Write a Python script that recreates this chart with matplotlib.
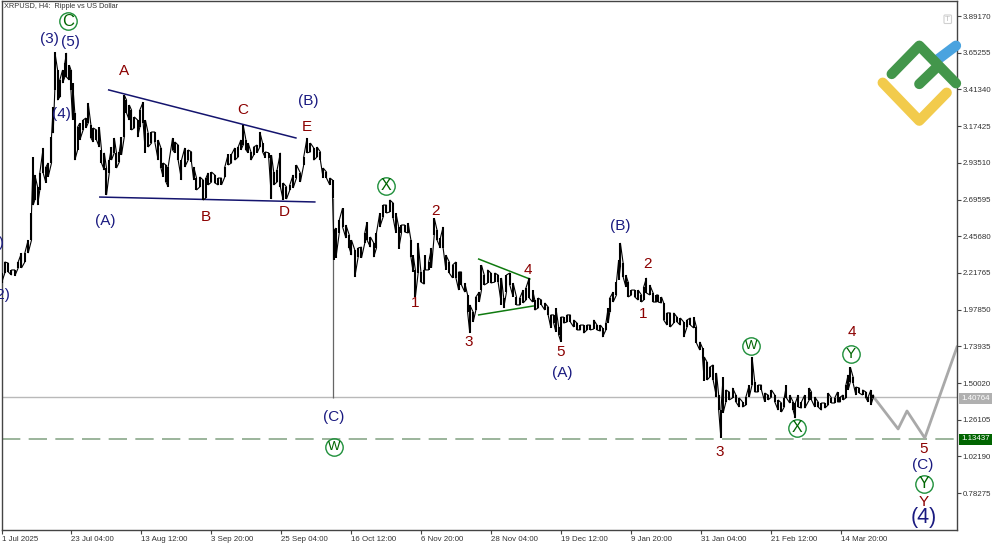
import numpy as np
import matplotlib
matplotlib.use('Agg')
import matplotlib.pyplot as plt
from matplotlib.lines import Line2D
from matplotlib.patches import FancyBboxPatch
from matplotlib.transforms import Affine2D

plt.rcParams['font.family'] = ['Liberation Sans', 'DejaVu Sans']

bars_jul = [0,6,12,18,24,30,36,42,48,54,57,60,65,69,75,80,84,90,93,96,101,105,110,114,117,122,125]
high_jul = [2.217,2.289,2.282,2.237,2.237,2.289,2.347,2.347,2.432,2.608,2.973,2.856,2.778,2.869,3.032,2.908,2.934,3.103,3.299,3.657,3.540,3.475,3.540,3.585,3.651,3.572,3.540]
low_jul = [2.152,2.217,2.224,2.204,2.198,2.250,2.250,2.289,2.347,2.432,2.660,2.693,2.660,2.758,2.869,2.804,2.843,2.934,3.129,3.410,3.344,3.364,3.455,3.494,3.494,3.475,3.410]

bars_aug = [128,132,137,141,147,152,156,161,165,171,176,180,185,189,194,198,203,207,212,216,221,225,230,234,239,245,249,255,259,264,270,276,282,287,291,296,300]
high_aug = [3.455,3.260,3.168,3.194,3.214,3.227,3.325,3.181,3.162,3.149,3.168,3.019,3.000,2.901,2.953,3.038,3.097,3.000,3.006,3.103,3.377,3.344,3.312,3.279,3.234,3.214,3.279,3.331,3.214,3.129,3.136,3.136,3.084,3.032,2.934,2.921,2.908]
low_aug = [3.214,2.953,3.019,3.084,3.149,3.162,3.194,3.097,3.071,3.084,3.038,2.934,2.888,2.725,2.869,2.953,3.000,2.901,2.940,2.986,3.103,3.260,3.214,3.149,3.162,3.103,3.168,3.194,3.000,3.038,3.064,3.071,2.953,2.901,2.843,2.810,2.778]

bars_sep = [308,312,318,324,330,336,342,346,351,357,363,368,372,378,384,390,396,402,408,414,420,426,431,435,440,444,449,454,460,465,470,475,481,486,490,496,502,507,513,519,525,531,538,544,550,556,562,568,574,579,585,591,596,597]
high_sep = [3.097,3.071,3.051,2.953,3.032,3.019,3.006,2.908,2.836,2.843,2.823,2.836,2.869,2.875,2.856,2.836,2.836,2.908,2.990,2.990,3.032,3.038,3.084,3.181,3.084,3.064,3.006,3.038,3.051,3.136,3.064,3.006,3.000,2.986,2.875,2.888,3.000,2.804,2.778,2.791,2.856,2.921,2.869,2.973,3.097,3.064,3.032,3.038,3.006,2.901,2.875,2.836,2.823,2.706]
low_sep = [3.019,3.000,2.953,2.823,2.908,2.953,2.940,2.823,2.758,2.778,2.693,2.706,2.791,2.810,2.804,2.791,2.791,2.843,2.921,2.934,2.953,2.973,3.019,3.051,3.019,3.000,2.953,2.986,3.000,3.038,3.006,2.967,2.967,2.699,2.791,2.810,2.778,2.693,2.699,2.758,2.771,2.836,2.810,2.921,3.000,3.006,2.953,2.973,2.953,2.836,2.836,2.791,2.706,1.403]

bars_oct = [599,602,608,614,620,626,630,636,642,648,654,658,664,670,675,681,687,693,699,705,710,715,720,726,732,737,741,745,750,755,761,763,769,774,779,784,790,795,800,806,812,818,823,828,834,839,843,849,854,860,864,869,875,881]
high_oct = [2.497,2.510,2.562,2.640,2.530,2.465,2.432,2.367,2.380,2.386,2.478,2.549,2.452,2.413,2.478,2.608,2.660,2.660,2.693,2.673,2.608,2.517,2.530,2.530,2.543,2.432,2.334,2.237,2.413,2.224,2.237,2.334,2.289,2.380,2.575,2.497,2.445,2.517,2.334,2.289,2.269,2.289,2.224,2.224,2.152,2.074,2.009,1.963,2.061,2.093,2.269,2.204,2.237,2.217]
low_oct = [2.302,2.315,2.478,2.517,2.445,2.380,2.334,2.191,2.321,2.315,2.413,2.432,2.386,2.321,2.380,2.517,2.582,2.608,2.615,2.575,2.478,2.374,2.478,2.484,2.478,2.321,2.224,2.061,2.217,2.158,2.145,2.237,2.237,2.250,2.465,2.432,2.380,2.380,2.237,2.217,2.185,2.185,2.106,2.139,2.093,1.963,1.826,1.898,1.976,2.028,2.106,2.139,2.152,2.152]

bars_dec = [888,894,900,904,909,915,921,927,933,939,944,950,956,960,966,972,978,984,989,994,998,1003,1007,1012,1018,1024,1030,1036,1042,1048,1054,1060,1066,1072,1078,1082,1088,1092,1095,1101,1107,1111,1114,1119,1124,1128,1134,1140,1146,1152,1156,1161,1167,1173,1179]
high_dec = [2.217,2.204,2.185,2.054,2.204,2.217,2.152,2.061,2.054,2.106,2.119,2.185,2.106,2.041,2.054,2.041,2.022,1.996,1.944,1.944,1.989,1.865,1.930,1.930,1.944,1.944,1.911,1.891,1.878,1.878,1.878,1.878,1.911,1.878,1.878,1.859,1.891,1.989,2.054,2.093,2.158,2.302,2.413,2.282,2.204,2.158,2.106,2.106,2.106,2.074,2.126,2.185,2.139,2.087,2.074]
low_dec = [2.158,2.158,2.009,1.989,2.093,2.139,2.061,2.009,2.009,2.022,2.041,2.054,2.028,1.976,1.989,2.009,1.976,1.944,1.859,1.891,1.833,1.813,1.768,1.891,1.898,1.898,1.865,1.846,1.846,1.826,1.846,1.846,1.852,1.846,1.839,1.800,1.846,1.891,1.963,2.028,2.074,2.172,2.256,2.191,2.126,2.061,2.074,2.061,2.041,2.028,2.041,2.087,2.074,2.028,2.028]

bars_feb = [1182,1188,1192,1198,1204,1210,1216,1222,1228,1234,1240,1246,1251,1257,1262,1265,1270,1275,1281,1287,1291,1295,1299,1304,1310,1316,1322,1328,1334,1340,1346,1351,1356,1362,1368,1374,1380,1386,1392,1398,1404,1409,1413,1419,1425,1429,1434,1440,1446,1454]
high_feb = [2.074,2.061,2.022,1.957,1.957,1.957,1.930,1.924,1.898,1.911,1.924,1.930,1.865,1.768,1.728,1.670,1.637,1.604,1.618,1.566,1.422,1.324,1.539,1.455,1.442,1.468,1.422,1.403,1.377,1.409,1.487,1.670,1.507,1.487,1.487,1.435,1.422,1.455,1.422,1.390,1.370,1.403,1.487,1.422,1.377,1.370,1.422,1.377,1.422,1.468]
low_feb = [2.028,2.022,1.911,1.878,1.865,1.891,1.898,1.878,1.800,1.865,1.878,1.859,1.761,1.715,1.663,1.514,1.520,1.539,1.520,1.409,1.324,1.142,1.305,1.377,1.390,1.403,1.377,1.344,1.344,1.357,1.409,1.487,1.442,1.442,1.455,1.377,1.390,1.409,1.377,1.324,1.311,1.344,1.403,1.370,1.324,1.272,1.344,1.337,1.337,1.390]

bars_mar = [1458,1464,1470,1476,1482,1488,1494,1500,1505,1510,1515,1520,1524,1528,1533,1538,1544,1550,1556,1560,1565,1569]
high_mar = [1.442,1.409,1.377,1.370,1.370,1.435,1.403,1.403,1.442,1.409,1.422,1.487,1.553,1.604,1.539,1.474,1.468,1.455,1.442,1.409,1.455,1.422]
low_mar = [1.390,1.344,1.344,1.324,1.337,1.357,1.370,1.370,1.377,1.377,1.390,1.403,1.455,1.507,1.500,1.422,1.435,1.422,1.403,1.377,1.357,1.403]

# forecast path and the drawn trend lines
forecast_bars = [1570,1614,1630,1662,1720]
forecast_price = [1.409,1.201,1.318,1.142,1.735]
upper_bars = [193,530]
upper_price = [3.410,3.097]
lower_bars = [177,564]
lower_price = [2.712,2.680]
tri_top_bars = [859,951]
tri_top_price = [2.308,2.178]
tri_bot_bars = [859,957]
tri_bot_price = [1.944,2.002]
last_price = 1.40764
target_price = 1.13437

tick_bars = [0,126,252,378,504,630,756,882,1008,1134,1260,1386,1512]
tick_dates = ['1 Jul 2025','23 Jul 04:00','13 Aug 12:00','3 Sep 20:00','25 Sep 04:00','16 Oct 12:00',
              '6 Nov 20:00','28 Nov 04:00','19 Dec 12:00','9 Jan 20:00','31 Jan 04:00','21 Feb 12:00','14 Mar 20:00']
price_ticks = [3.89170,3.65255,3.41340,3.17425,2.93510,2.69595,2.45680,2.21765,1.97850,1.73935,1.50020,1.26105,1.02190,0.78275]

bars = np.concatenate([bars_jul,bars_aug,bars_sep,bars_oct,bars_dec,bars_feb,bars_mar])
highs = np.concatenate([high_jul,high_aug,high_sep,high_oct,high_dec,high_feb,high_mar])
lows = np.concatenate([low_jul,low_aug,low_sep,low_oct,low_dec,low_feb,low_mar])

W, H = 1000, 545
fig = plt.figure(figsize=(W/100, H/100), dpi=100)
ax = fig.add_axes([1.5/W, 1-530/H, 955.5/W, 529/H])
pix = Affine2D().scale(1, -1).translate(0, H)

# the one very long candle is thin and grey in the original, the rest is a black trace
is_spike = (highs - lows) > 1
ax.vlines(bars[is_spike], lows[is_spike], highs[is_spike], color='#666666', lw=0.9, zorder=2)
b, hi, lo = bars[~is_spike], highs[~is_spike], lows[~is_spike]

# zigzag through high/low so the bars join up into one trace
xs, ys = [], []
for i in range(len(b)):
    a, c = (hi[i], lo[i]) if i % 2 == 0 else (lo[i], hi[i])
    xs += [b[i], b[i]]
    ys += [a, c]
ax.plot(xs, ys, color='black', lw=0.8, solid_joinstyle='miter', zorder=3)
ax.vlines(b, lo, hi, color='black', lw=1.5, zorder=3)

ax.axhline(last_price, color='#b9b9b9', lw=1, zorder=1)
ax.axhline(target_price, color='#8aa88a', lw=1.2, dashes=(11, 5), zorder=1)
ax.plot(forecast_bars, forecast_price, color='#a9a9a9', lw=2, zorder=2)
ax.plot(upper_bars, upper_price, color='#14146e', lw=1.1)
ax.plot(lower_bars, lower_price, color='#14146e', lw=1.1)
ax.plot(tri_top_bars, tri_top_price, color='#0f7a0f', lw=1.1)
ax.plot(tri_bot_bars, tri_bot_price, color='#0f7a0f', lw=1.1)

ax.set_xlim(0, 1720)
ax.set_ylim(0.5425, 3.9895)
ax.yaxis.tick_right()
ax.set_yticks(price_ticks)
ax.set_yticklabels(['%.5f' % p for p in price_ticks])
ax.set_xticks(tick_bars)
ax.set_xticklabels(tick_dates, ha='left')
ax.tick_params(axis='both', length=3, width=0.8, color='#444444', labelcolor='#333333', labelsize=5.7, pad=1.5)
ax.tick_params(axis='y', pad=1)
for s in ax.spines.values():
    s.set_color('#444444')
    s.set_linewidth(1)

navy = '#1a1a80'
red = '#8b0000'
green = '#006400'

def label(x, y, s, color, size=11):
    fig.text(x, y, s, color=color, fontsize=size, ha='center', va='center', transform=pix, zorder=6)

def circled(x, y, s, size=10.5, ms=12.5):
    fig.add_artist(Line2D([x], [y], marker='o', ms=ms, mfc='none', mec='#1e8f3a', mew=1, ls='', transform=pix, zorder=6))
    label(x, y, s, green, size)

for x, y, s in [(49,39,'(3)'),(70,42,'(5)'),(61,114,'(4)'),(105,221,'(A)'),(308,101,'(B)'),(334,417,'(C)'),
                (620,226,'(B)'),(562,373,'(A)'),(923,465,'(C)'),(-5.5,243,'(1)'),(0.5,295,'(2)')]:
    label(x, y, s, navy)
for x, y, s in [(124,71,'A'),(206,217,'B'),(243,110,'C'),(284,212,'D'),(307,127,'E'),(435,211,'2'),(415,303,'1'),
                (469,342,'3'),(528,270,'4'),(561,352,'5'),(648,264,'2'),(643,314,'1'),(720,452,'3'),(852,332,'4'),
                (924,449,'5'),(924,502,'Y')]:
    label(x, y, s, red)
label(923.5, 517, '(4)', navy, 15.5)
circled(68, 21, 'C', 12)
circled(386, 186, 'X', 11.5)
circled(334, 447, 'W', 9.5)
circled(751, 346, 'W', 9.5)
circled(797, 428, 'X', 11.5)
circled(851, 354, 'Y', 11)
circled(924, 484, 'Y', 11.5)

fig.text(4, 6.5, 'XRPUSD, H4:  Ripple vs US Dollar', color='#333333', fontsize=5.3, va='center', transform=pix)

# price badges on the right
for y, txt, bg in [(398, '1.40764', '#b0b0b0'), (439, '1.13437', '#006400')]:
    fig.add_artist(plt.Rectangle((959, y-5.5), 33, 11, fc=bg, ec='none', transform=pix, zorder=6))
    fig.text(975.5, y, txt, color='white', fontsize=5.7, ha='center', va='center', transform=pix, zorder=7)

# "T" button
fig.add_artist(FancyBboxPatch((944, 15), 7.5, 8.5, boxstyle='round,pad=0,rounding_size=1', fc='white', ec='#d0d0d0', lw=0.8, transform=pix, zorder=4))
fig.text(947.8, 19.3, 'T', color='#c0c0c0', fontsize=6, ha='center', va='center', transform=pix, zorder=5)

# logo, thick round strokes
def stroke(px, py, color):
    fig.add_artist(Line2D(px, py, color=color, lw=7.4, solid_capstyle='round', solid_joinstyle='round', transform=pix, zorder=5))

stroke([937, 956], [60, 45.7], '#4aa3df')
stroke([882.7, 919.3, 946.7], [82.7, 120.7, 92.7], '#f2cb4c')
stroke([891.7, 919.3, 956], [74, 45.7, 83.3], '#43964b')
stroke([919.3, 937.3], [84, 66.7], '#43964b')

fig.savefig('out.png', dpi=100)
